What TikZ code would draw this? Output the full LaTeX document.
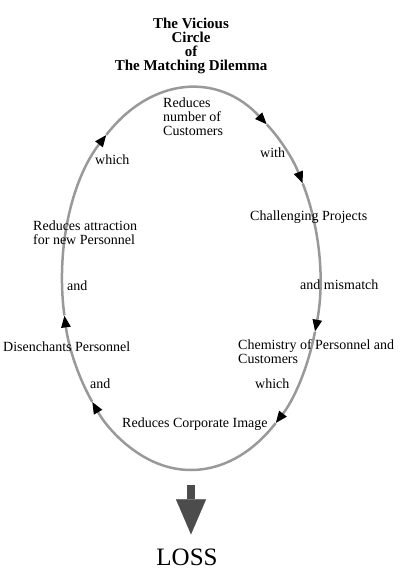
\documentclass[tikz,border=0pt]{standalone}
\usepackage{fontspec}
\setmainfont{Liberation Serif}
\usetikzlibrary{arrows.meta,calc}

\tikzset{
  lbl/.style={font=\fontsize{14bp}{14bp}\selectfont, inner sep=0pt, anchor=west, align=left},
  cycleline/.style={draw=black!40, line width=2.5bp,
    -{Triangle[length=12bp 0 0, width=9bp 0 0, color=black]}},
  drop/.style={draw=black!70, line width=8bp,
    -{Triangle[length=35bp 0 0, width=30bp 0 0, color=black!70, line width=0.1bp 0 0]}}
}

\begin{document}
\begin{tikzpicture}[x=1bp,y=1bp]
\useasboundingbox (0,0) rectangle (416,581);

% heading
\node[font=\fontsize{15bp}{14bp}\selectfont\bfseries, align=center, inner sep=0pt] (title) at (191,535)
  {The Vicious\\Circle\\of\\The Matching Dilemma};

% the circle
\coordinate (hub) at (191,302);
\foreach \s/\e in {131/54, 54/30, 30/-16, -16/-49, -49/-140, -140/-169, 191/131}
  \draw[cycleline] ($(hub)+(\s:129bp and 191bp)$)
    arc[start angle=\s, end angle=\e, x radius=129bp, y radius=191bp];

% stations round the circle
\node[lbl] (cust) at (163,464) {Reduces\\number of\\Customers};
\node[lbl] (withA) at (260,428) {with};
\node[lbl] (proj) at (250,364) {Challenging Projects};
\node[lbl] (mism) at (300,296) {and mismatch};
\node[lbl] (chem) at (238,229) {Chemistry of Personnel and\\Customers};
\node[lbl] (whichB) at (255,197) {which};
\node[lbl] (image) at (122,157) {Reduces Corporate Image};
\node[lbl] (andB) at (90,197) {and};
\node[lbl] (dis) at (3,234) {Disenchants Personnel};
\node[lbl] (andA) at (67,295) {and};
\node[lbl] (attr) at (33,348) {Reduces attraction\\for new Personnel};
\node[lbl] (whichA) at (95,421) {which};

% outcome
\node[font=\fontsize{25bp}{25bp}\selectfont, inner sep=0pt] (loss) at (187,24) {LOSS};
\coordinate (sink) at (191,96);
\draw[drop] (sink) -- ([yshift=14bp]sink |- loss.north);
\end{tikzpicture}
\end{document}
